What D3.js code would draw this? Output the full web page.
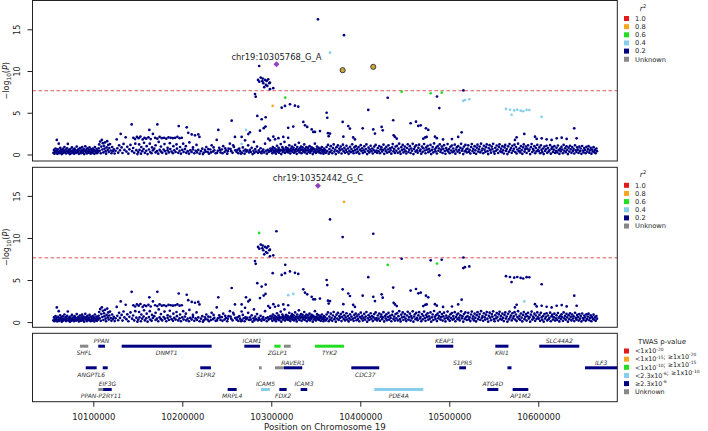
<!DOCTYPE html>
<html><head><meta charset="utf-8">
<script src="https://cdn.jsdelivr.net/npm/d3@7"></script>
<style>body{margin:0;background:#fff}svg{display:block;font-family:"DejaVu Sans",sans-serif}</style>
</head><body>
<svg id="chart" width="708" height="431"></svg>
<script>
// ---------------- data ----------------
const xTicks = [10100000, 10200000, 10300000, 10400000, 10500000, 10600000];
const yTicks = [0, 5, 10, 15];
const threshold = 7.64;
const ldLevels = ["1.0", "0.8", "0.6", "0.4", "0.2", "Unknown"];
const ldColors = ["#E31A1C", "#F5A623", "#22DD22", "#87CEEB", "#000080", "#888888"];
const leadColor = "#9440C2";
const markColor = "#C9A43A";
const leadLabels = ["chr19:10305768_G_A", "chr19:10352442_G_C"];

// background SNPs (position kb, -log10 P), navy in both panels
const bgSnps = [
[10055.2,0.20],[10055.8,0.55],[10056.4,0.10],[10057.0,0.38],[10057.6,0.72],[10058.2,0.25],[10058.8,0.48],[10059.0,1.74],[10059.6,0.08],[10060.2,0.62],[10060.8,0.30],[10061.2,1.30],[10061.6,0.15],[10062.2,0.45],[10062.8,0.80],[10063.4,0.22],[10064.0,0.55],[10064.6,0.05],[10065.2,0.35],[10065.8,0.68],[10066.4,0.18],[10067.0,0.42],[10067.6,0.90],[10068.2,0.28],[10068.8,0.60],[10069.4,0.12],[10070.0,0.40],[10070.6,0.75],[10071.4,1.26],[10071.8,0.20],[10072.4,0.52],[10073.0,0.32],[10073.6,0.05],[10074.2,0.65],[10074.8,0.38],[10075.4,0.15],[10076.0,0.85],[10076.6,0.45],[10077.2,0.25],[10077.8,0.58],[10078.4,0.10],[10079.0,0.70],[10079.6,0.35],[10080.2,0.50],[10080.8,0.18],[10081.4,0.95],[10082.0,0.42],[10082.6,0.28],[10083.2,0.62],[10083.8,0.08],[10084.4,0.48],[10085.0,0.78],[10085.6,0.30],[10086.2,0.15],[10086.8,0.55],[10087.4,0.88],[10088.0,0.40],[10088.6,0.20],[10089.2,0.65],[10089.8,0.05],[10090.4,0.45],[10091.0,0.98],[10091.6,0.32],[10092.2,0.58],[10092.8,0.12],[10093.4,0.75],[10094.0,0.38],[10094.6,0.22],[10095.2,0.52],[10095.8,0.85],[10096.4,0.28],[10097.0,0.10],[10097.6,0.62],[10098.2,0.40],[10098.8,0.18],[10099.4,0.72],[10100.0,0.35],[10100.6,0.55],[10101.2,0.08],[10101.8,0.90],[10102.4,0.42],[10103.0,0.25],[10103.6,0.65],[10104.2,0.15],[10104.8,0.48],
[10105.4,0.30],[10106.0,0.75],[10106.6,1.20],[10107.2,0.45],[10107.8,1.55],[10108.4,0.15],[10109.0,0.95],[10109.6,1.75],[10110.2,0.60],[10110.8,1.35],[10111.4,0.25],[10112.0,1.05],[10112.6,0.70],[10113.2,1.45],[10113.8,0.40],[10114.4,0.10],[10115.0,0.85],[10115.6,1.60],[10116.2,0.55],[10116.8,1.15],[10117.4,0.30],[10118.0,0.78],[10118.8,1.25],[10119.6,0.48],[10120.4,0.15],[10121.2,0.90],[10122.0,0.38],[10123.0,0.62],[10124.0,0.12],[10125.0,0.45],[10126.3,1.80],[10127.0,0.75],[10128.0,0.22],[10129.0,1.10],[10130.0,0.50],[10130.8,2.46],[10131.8,0.85],[10132.8,0.18],[10134.0,1.26],[10135.0,0.55],[10136.4,2.06],[10137.2,0.35],[10138.2,0.92],[10139.4,0.10],[10140.6,0.62],[10141.8,1.15],[10143.1,3.60],[10143.6,0.40],[10144.8,0.78],[10146.0,0.20],[10147.2,1.30],[10148.4,0.52],[10149.6,0.05],
[10145.0,2.00],[10147.0,1.85],[10149.0,2.10],[10151.0,1.95],[10153.0,2.15],[10155.5,1.80],[10157.5,2.00],[10159.5,1.90],[10162.0,2.05],[10164.5,1.85],[10169.5,2.00],[10172.0,1.90],[10174.5,2.10],[10177.0,1.95],[10179.5,2.00],[10182.0,1.90],[10184.5,2.05],[10187.0,2.00],[10189.5,1.95],[10192.0,2.00],[10194.5,2.10],[10197.0,1.95],[10199.5,2.00],
[10163.0,2.94],[10167.0,2.46],[10172.0,3.60],[10196.0,3.40],[10205.0,3.25],[10206.7,2.60],[10210.6,2.40],[10214.3,2.30],[10218.0,2.40],[10219.3,2.10],
[10151.5,1.20],[10154.0,0.90],[10157.0,1.40],[10160.0,1.00],[10163.5,1.30],[10166.0,0.85],[10170.0,1.10],[10173.5,1.50],[10176.0,0.95],[10180.0,1.25],[10183.5,0.80],[10186.0,1.35],[10190.0,1.00],[10193.5,1.20],[10197.5,0.90],[10201.0,1.30],[10204.0,1.00],[10208.0,1.45],[10212.0,0.85],[10216.0,1.15],
[10150.5,0.30],[10152.0,0.55],[10153.5,0.10],[10155.0,0.40],[10156.5,0.65],[10158.0,0.20],[10159.5,0.45],[10161.0,0.05],[10162.5,0.60],[10164.0,0.30],[10165.5,0.15],[10167.0,0.50],[10168.5,0.70],[10170.0,0.25],[10171.5,0.40],[10173.0,0.10],[10174.5,0.55],[10176.0,0.35],[10177.5,0.20],[10179.0,0.60],[10180.5,0.40],[10182.0,0.10],[10183.5,0.50],[10185.0,0.25],[10186.5,0.65],[10188.0,0.35],[10189.5,0.15],[10191.0,0.50],[10192.5,0.30],[10194.0,0.70],[10195.5,0.20],[10197.0,0.45],[10198.5,0.10],[10200.0,0.55],[10201.5,0.30],[10203.0,0.65],[10204.5,0.20],[10206.0,0.40],[10207.5,0.10],[10209.0,0.50],[10210.5,0.30],[10212.0,0.60],[10213.5,0.15],[10215.0,0.45],[10216.5,0.25],[10218.0,0.55],[10219.5,0.10],
[10221.0,0.40],[10222.5,0.70],[10224.0,0.20],[10225.5,0.55],[10227.0,0.90],[10228.5,0.30],[10230.0,0.10],[10231.5,0.60],[10233.0,1.10],[10234.5,0.35],[10236.0,0.50],[10237.5,0.15],[10238.7,1.74],[10240.0,0.45],[10240.5,2.94],[10241.5,0.80],[10243.0,0.25],[10244.5,0.60],[10246.0,1.00],[10247.5,0.30],[10249.0,0.50],[10250.5,0.10],[10252.0,0.70],[10253.5,1.30],[10255.0,0.40],[10255.5,4.05],[10256.5,0.20],[10258.0,0.90],[10259.2,2.10],[10259.5,0.50],
[10223.2,0.05],[10226.2,0.35],[10229.2,0.65],[10232.2,0.25],[10235.2,0.85],[10239.0,0.20],[10242.2,0.55],[10245.2,0.15],[10248.2,0.75],[10251.2,0.40],[10254.2,0.65],[10257.2,1.10],
[10261.0,0.30],[10262.0,0.55],[10263.0,0.15],[10264.0,0.70],[10265.0,0.40],[10266.0,0.10],[10267.0,0.20],[10268.0,0.85],[10269.0,0.45],[10270.0,0.10],[10271.0,0.60],[10272.0,0.35],[10273.0,0.50],[10274.0,1.10],[10275.0,0.25],[10276.0,0.55],[10277.0,0.30],[10278.0,0.80],[10279.0,0.05],[10280.0,0.45],[10281.0,0.20],[10282.0,0.65],[10283.0,0.35],[10284.0,0.95],[10285.0,0.20],[10286.0,0.50],[10287.0,0.30],[10288.0,0.75],[10289.0,0.15],[10290.0,0.40],[10291.0,0.60],[10292.0,0.25],[10293.0,1.30],[10294.0,0.45],[10295.0,0.10],[10296.0,0.55],[10297.0,0.30],[10298.0,0.40],[10299.0,0.70],
[10266.7,2.10],[10274.2,2.45],[10276.0,2.65],[10270.5,1.70],[10280.5,1.50],[10287.3,2.85],[10291.5,3.15],[10293.5,3.35],[10296.6,1.90],[10298.5,1.70],
[10300.0,0.40],[10300.6,0.65],[10301.2,0.15],[10301.8,0.90],[10302.3,2.13],[10302.6,0.50],[10303.2,0.28],[10303.8,0.75],[10304.2,1.82],[10304.6,0.40],[10305.2,0.10],[10305.8,0.60],[10306.4,1.05],[10307.0,0.35],[10307.6,0.50],[10308.2,0.80],[10308.8,0.22],[10309.4,0.60],[10310.0,0.45],[10310.6,1.25],[10311.2,0.05],[10311.8,0.55],[10312.4,0.90],[10313.0,0.30],[10313.6,0.70],[10314.2,0.45],[10314.8,1.50],[10315.4,0.18],[10316.0,0.60],[10316.6,0.85],[10317.2,0.35],[10317.8,0.50],[10318.4,0.75],[10319.0,0.25],[10319.6,0.55],[10320.2,1.10],[10320.8,0.40],[10321.4,0.12],[10322.0,0.70],[10322.6,0.45],[10323.2,0.95],[10323.8,0.30],[10324.4,0.60],[10325.0,0.80],[10325.6,0.20],[10326.2,0.50],[10326.8,1.15],[10327.4,0.35],[10328.0,0.65],[10328.6,0.08],[10329.2,0.90],[10329.8,0.45],[10330.4,0.60],[10331.0,1.40],[10331.6,0.25],[10332.2,0.75],[10332.8,0.50],[10333.4,0.95],[10334.0,0.15],[10334.6,0.60],[10335.2,0.85],[10335.8,0.35],[10336.4,0.55],[10337.0,1.20],[10337.6,0.25],[10338.2,0.70],[10338.8,0.45],[10339.4,0.90],[10340.0,0.10],[10340.6,0.55],[10341.2,0.80],[10341.8,0.30],[10342.4,0.50],[10343.0,1.00],[10343.6,0.20],[10344.2,0.65],[10344.8,0.40],[10345.4,0.85],[10346.0,0.55],[10346.6,0.05],[10347.2,0.75],[10347.8,0.30],[10348.4,0.60],[10349.0,1.30],[10349.6,0.45],[10350.2,0.18],[10350.8,0.65],[10351.4,0.95],[10352.0,0.35],[10352.6,0.50],[10353.2,0.80],[10353.8,0.25],[10354.4,0.45],[10355.0,0.70],[10355.6,0.15],[10356.2,0.60],[10356.8,0.90],[10357.4,0.35],[10358.0,0.50],[10358.6,0.10],[10359.2,0.70],[10359.8,0.30],
[10313.5,2.10],[10319.0,2.00],[10308.0,1.95],[10349.1,2.70],[10354.7,2.80],[10363.7,2.55],[10336.0,3.90],[10337.9,3.50],[10340.4,3.30],[10345.4,3.00],[10347.2,2.70],[10366.0,2.50],[10364.5,2.20],[10380.2,3.90],[10386.5,3.40],[10388.4,3.10],[10381.0,2.13],[10392.0,2.05],[10394.0,1.80],[10402.7,3.14],[10414.6,3.00],[10416.5,2.50],[10424.0,3.30],[10425.2,2.90],[10437.0,4.10],[10437.5,2.30],[10439.0,2.10],[10441.0,1.90],
[10456.6,3.74],[10462.6,3.93],[10465.2,3.42],[10467.9,3.50],[10473.8,3.14],[10476.4,2.94],[10470.8,1.90],[10474.6,2.10],[10483.9,2.13],[10513.9,2.66],[10640.4,3.14],
[10473.0,2.05],[10486.0,1.95],[10493.0,1.80],[10503.0,1.85],[10510.0,2.10],
[10596.3,2.13],[10598.2,1.86],[10603.8,1.94],[10609.4,1.82],[10615.0,1.74],[10620.7,1.94],[10626.3,2.02],[10631.9,1.86],[10643.1,1.94],[10575.7,2.06],[10573.8,1.74],
[10360.5,0.55],[10361.3,0.20],[10362.1,0.90],[10362.9,0.40],[10363.7,1.15],[10364.5,0.10],[10365.3,0.65],[10366.1,0.30],[10366.9,1.00],[10367.7,0.48],[10368.5,0.15],[10369.3,0.78],[10370.1,1.20],[10370.9,0.35],[10371.7,0.60],[10372.5,0.05],[10373.3,0.88],[10374.1,0.42],[10374.9,1.10],[10375.7,0.25],[10376.5,0.70],[10377.3,0.50],[10378.1,0.95],[10378.9,0.12],[10379.7,0.62],[10380.5,1.18],[10381.3,0.38],[10382.1,0.80],[10382.9,0.20],[10383.7,0.55],[10384.5,1.05],[10385.3,0.30],[10386.1,0.72],[10386.9,0.08],[10387.7,0.45],[10388.5,0.92],[10389.3,0.28],[10390.1,0.65],[10390.9,1.22],[10391.7,0.40],[10392.5,0.15],[10393.3,0.85],[10394.1,0.52],[10394.9,1.00],[10395.7,0.22],[10396.5,0.68],[10397.3,0.35],[10398.1,0.90],[10398.9,0.10],[10399.7,0.58],[10400.5,1.12],[10401.3,0.42],[10402.1,0.75],[10402.9,0.18],[10403.7,0.50],[10404.5,0.98],[10405.3,0.30],[10406.1,0.65],[10406.9,1.20],[10407.7,0.05],[10408.5,0.45],[10409.3,0.82],[10410.1,0.25],[10410.9,0.60],[10411.7,1.05],[10412.5,0.38],[10413.3,0.72],[10414.1,0.12],[10414.9,0.55],[10415.7,0.95],[10416.5,0.32],[10417.3,1.15],[10418.1,0.48],[10418.9,0.20],[10419.7,0.78],[10420.5,0.40],[10421.3,1.02],[10422.1,0.15],[10422.9,0.62],[10423.7,0.88],[10424.5,0.35],[10425.3,0.55],[10426.1,1.18],[10426.9,0.08],[10427.7,0.70],[10428.5,0.42],[10429.3,0.92],[10430.1,0.22],[10430.9,0.60],[10431.7,1.10],[10432.5,0.30],[10433.3,0.75],[10434.1,0.50],[10434.9,0.10],[10435.7,0.85],[10436.5,1.25],[10437.3,0.38],[10438.1,0.65],[10438.9,0.18],[10439.7,0.95],
[10440.5,0.45],[10441.3,1.05],[10442.1,0.20],[10442.9,0.70],[10443.7,1.30],[10444.5,0.35],[10445.3,0.08],[10446.1,0.88],[10446.9,0.55],[10447.7,1.15],[10448.5,0.25],[10449.3,0.62],[10450.1,0.95],[10450.9,0.40],[10451.7,0.12],[10452.5,0.78],[10453.3,1.22],[10454.1,0.30],[10454.9,0.58],[10455.7,1.00],[10456.5,0.18],[10457.3,0.72],[10458.1,0.45],[10458.9,1.28],[10459.7,0.05],[10460.5,0.65],[10461.3,0.92],[10462.1,0.35],[10462.9,1.10],[10463.7,0.50],[10464.5,0.22],[10465.3,0.80],[10466.1,1.18],[10466.9,0.42],[10467.7,0.60],[10468.5,0.10],[10469.3,0.95],[10470.1,0.32],[10470.9,0.75],[10471.7,1.25],[10472.5,0.48],[10473.3,0.15],[10474.1,0.85],[10474.9,0.58],[10475.7,1.05],[10476.5,0.28],[10477.3,0.68],[10478.1,0.40],[10478.9,1.15],[10479.7,0.05],[10480.5,0.55],[10481.3,0.90],[10482.1,0.25],[10482.9,1.32],[10483.7,0.62],[10484.5,0.38],[10485.3,0.82],[10486.1,0.12],[10486.9,1.00],[10487.7,0.45],[10488.5,0.72],[10489.3,1.20],[10490.1,0.30],[10490.9,0.58],[10491.7,0.95],[10492.5,0.18],[10493.3,0.68],[10494.1,1.12],[10494.9,0.42],[10495.7,0.08],[10496.5,0.78],[10497.3,0.52],[10498.1,1.25],[10498.9,0.35],[10499.7,0.65],[10500.5,0.15],[10501.3,0.92],[10502.1,0.48],[10502.9,1.08],[10503.7,0.28],[10504.5,0.72],[10505.3,0.40],[10506.1,1.18],[10506.9,0.10],[10507.7,0.60],[10508.5,0.88],[10509.3,0.35],[10510.1,1.02],[10510.9,0.52],[10511.7,0.20],[10512.5,0.80],[10513.3,1.28],[10514.1,0.45],[10514.9,0.68],[10515.7,0.05],[10516.5,0.95],[10517.3,0.38],[10518.1,1.15],[10518.9,0.58],[10519.7,0.25],
[10520.5,0.70],[10521.3,1.10],[10522.1,0.32],[10522.9,0.55],[10523.7,0.12],[10524.5,0.90],[10525.3,1.25],[10526.1,0.42],[10526.9,0.68],[10527.7,0.20],[10528.5,1.00],[10529.3,0.50],[10530.1,0.08],[10530.9,0.82],[10531.7,1.18],[10532.5,0.35],[10533.3,0.62],[10534.1,0.95],[10534.9,0.25],[10535.7,1.30],[10536.5,0.48],[10537.3,0.72],[10538.1,0.15],[10538.9,1.05],[10539.7,0.58],[10540.5,0.30],[10541.3,0.88],[10542.1,1.20],[10542.9,0.40],[10543.7,0.05],[10544.5,0.75],[10545.3,1.12],[10546.1,0.52],[10546.9,0.22],[10547.7,0.95],[10548.5,0.65],[10549.3,1.28],[10550.1,0.35],[10550.9,0.10],[10551.7,0.80],[10552.5,0.45],[10553.3,1.08],[10554.1,0.60],[10554.9,0.18],[10555.7,0.92],[10556.5,1.22],[10557.3,0.38],[10558.1,0.70],[10558.9,0.28],[10559.7,1.00],[10560.5,0.50],[10561.3,0.12],[10562.1,0.85],[10562.9,1.15],[10563.7,0.42],[10564.5,0.65],[10565.3,0.05],[10566.1,0.98],[10566.9,0.32],[10567.7,1.25],[10568.5,0.55],[10569.3,0.78],[10570.1,0.20],[10570.9,1.05],[10571.7,0.45],[10572.5,0.68],[10573.3,1.18],[10574.1,0.30],[10574.9,0.90],[10575.7,0.12],[10576.5,0.60],[10577.3,1.30],[10578.1,0.40],[10578.9,0.75],[10579.7,0.25],[10580.5,1.02],[10581.3,0.52],[10582.1,0.08],[10582.9,0.85],[10583.7,1.20],[10584.5,0.35],[10585.3,0.62],[10586.1,0.95],[10586.9,0.18],[10587.7,0.70],[10588.5,1.10],[10589.3,0.42],[10590.1,0.58],[10590.9,0.05],[10591.7,0.88],[10592.5,1.25],[10593.3,0.30],[10594.1,0.65],[10594.9,0.48],[10595.7,1.00],[10596.5,0.15],[10597.3,0.78],[10598.1,0.38],[10598.9,1.15],[10599.7,0.55],
[10600.5,0.40],[10601.3,0.85],[10602.1,0.15],[10602.9,1.10],[10603.7,0.55],[10604.5,0.28],[10605.3,0.72],[10606.1,0.05],[10606.9,0.95],[10607.7,0.42],[10608.5,0.62],[10609.3,1.05],[10610.1,0.20],[10610.9,0.78],[10611.7,0.35],[10612.5,0.50],[10613.3,1.12],[10614.1,0.10],[10614.9,0.68],[10615.7,0.88],[10616.5,0.30],[10617.3,0.58],[10618.1,1.00],[10618.9,0.18],[10619.7,0.45],[10620.5,0.80],[10621.3,0.25],[10622.1,1.08],[10622.9,0.52],[10623.7,0.08],[10624.5,0.70],[10625.3,0.38],[10626.1,0.92],[10626.9,0.60],[10627.7,0.15],[10628.5,1.15],[10629.3,0.45],[10630.1,0.75],[10630.9,0.28],[10631.7,0.98],[10632.5,0.55],[10633.3,0.05],[10634.1,0.82],[10634.9,0.35],[10635.7,1.05],[10636.5,0.62],[10637.3,0.20],[10638.1,0.90],[10638.9,0.42],[10639.7,0.68],[10640.5,0.12],[10641.3,1.10],[10642.1,0.50],[10642.9,0.30],[10643.7,0.85],[10644.5,0.58],[10645.3,0.18],[10646.1,0.95],[10646.9,0.40],[10647.7,0.72],[10648.5,0.08],[10649.3,1.02],[10650.1,0.48],[10650.9,0.25],[10651.7,0.78],[10652.5,0.55],[10653.3,0.15],[10654.1,0.92],[10654.9,0.35],[10655.7,0.65],[10656.5,1.00],[10657.3,0.22],[10658.1,0.50],[10658.9,0.80],[10659.7,0.10],[10660.5,0.60],[10661.3,0.38],[10662.1,0.88],[10662.9,0.28],[10663.7,0.55],[10664.5,0.15],[10665.3,0.72],[10666.0,0.40]
];

// signal SNPs: [position kb, -log10 P, r2 class in top panel, r2 class in bottom panel]
const sigSnps = [
[10352.442,16.2,"0.2","lead"],[10381.7,14.3,"0.2","0.8"],[10366.0,12.2,"0.4","0.2"],[10305.768,10.8,"lead","0.2"],
[10380.2,10.1,"mark","0.2"],[10414.6,10.5,"mark","0.2"],[10286.4,10.6,"0.2","0.6"],
[10285.1,8.93,"0.2","0.2"],[10288.1,9.21,"0.2","0.2"],[10290.3,9.09,"0.2","0.2"],[10286.5,8.73,"0.2","0.2"],[10292.9,8.93,"0.2","0.2"],[10294.8,8.81,"0.2","0.2"],[10296.6,9.01,"0.2","0.2"],[10298.5,8.61,"0.2","0.2"],[10291.0,8.54,"0.2","0.2"],[10294.0,8.33,"0.2","0.2"],[10295.5,8.21,"0.2","0.2"],[10292.1,8.06,"0.2","0.2"],[10298.5,7.82,"0.2","0.2"],[10302.2,7.94,"0.2","0.2"],[10289.9,8.78,"0.2","0.2"],[10297.8,8.54,"0.2","0.2"],
[10281.7,7.25,"0.2","0.2"],[10282.5,6.93,"0.2","0.2"],
[10315.7,6.81,"0.6","0.2"],[10301.6,5.82,"0.8","0.2"],
[10311.7,5.61,"0.2","0.2"],[10315.4,5.82,"0.2","0.2"],[10321.0,6.02,"0.2","0.2"],[10326.6,5.85,"0.2","0.2"],[10330.3,5.73,"0.2","0.2"],
[10284.3,4.62,"0.2","0.2"],[10289.2,4.22,"0.2","0.2"],[10293.7,4.46,"0.2","0.2"],
[10271.6,2.94,"0.4","0.2"],[10266.7,1.26,"0.4","0.2"],
[10319.0,3.20,"0.2","0.4"],[10324.7,3.35,"0.2","0.4"],
[10362.2,5.00,"0.2","0.2"],[10362.9,4.40,"0.2","0.2"],
[10430.8,6.80,"0.2","0.6"],[10409.0,5.34,"0.2","0.2"],[10446.5,7.53,"0.6","0.2"],
[10479.1,7.34,"0.6","0.2"],[10491.5,7.41,"0.6","0.2"],[10486.2,6.95,"0.2","0.6"],[10488.8,5.56,"0.2","0.2"],
[10515.7,6.42,"0.4","0.2"],[10522.5,6.62,"0.4","0.2"],[10517.6,6.53,"0.4","0.2"],[10515.9,7.68,"0.2","0.2"],
[10563.7,5.46,"0.4","0.2"],[10568.2,5.36,"0.4","0.2"],[10573.0,5.28,"0.4","0.2"],[10576.4,5.36,"0.4","0.2"],[10580.2,5.25,"0.4","0.2"],[10583.1,5.18,"0.4","0.2"],[10586.9,5.34,"0.4","0.2"],[10589.9,5.33,"0.4","0.2"],[10570.0,4.76,"0.4","0.2"],[10603.8,4.50,"0.4","0.2"],
[10584.3,2.46,"0.2","0.4"]
];

// genes: [name, start kb, end kb, row, label side (a=above, b=below), TWAS class index]
const twasLabels = [
  [["<1x10","-20"]],
  [["<1x10","-15"],["; \u22651x10","-20"]],
  [["<1x10","-10"],["; \u22651x10","-15"]],
  [["<2.3x10","-6"],["; \u22651x10","-10"]],
  [["\u22652.3x10","-6"]],
  [["Unknown",""]]
];
const genes = [
["SHFL",10085.0,10094.4,0,"b",5],["PPAN",10105.6,10113.1,0,"a",4],["DNMT1",10131.9,10233.0,0,"b",4],
["ICAM1",10269.7,10287.3,0,"a",4],["ZGLP1",10303.4,10310.6,0,"b",2],["",10314.3,10321.8,0,"",5],
["TYK2",10349.1,10381.7,0,"b",2],["KEAP1",10485.1,10504.5,0,"a",4],["KRI1",10551.7,10566.5,0,"b",4],
["SLC44A2",10601.1,10646.1,0,"a",4],
["ANGPTL6",10091.5,10103.8,1,"b",4],["",10110.6,10116.2,1,"",4],["S1PR2",10220.2,10232.2,1,"b",4],
["",10286.2,10289.2,1,"",5],["",10304.2,10314.3,1,"",5],["RAVER1",10314.3,10334.8,1,"a",4],
["CDC37",10389.9,10421.3,1,"b",4],["S1PR5",10511.2,10518.8,1,"a",4],["",10565.4,10569.9,1,"",4],
["ILF3",10652.5,10700.0,1,"a",4],
["PPAN-P2RY11",10105.6,10112.0,2,"b",5],["EIF3G",10111.2,10120.7,2,"a",4],["MRPL4",10251.0,10261.1,2,"b",4],
["ICAM5",10288.4,10298.5,2,"a",3],["FDX2",10309.0,10317.3,2,"b",4],["ICAM3",10333.0,10340.4,2,"a",4],
["PDE4A",10415.7,10470.8,2,"b",3],["ATG4D",10542.7,10555.1,2,"a",4],["AP1M2",10571.2,10588.8,2,"b",4]
];

// ---------------- drawing ----------------
const svg = d3.select("#chart");
const L = 32.5, R = 617.3;
const x = d3.scaleLinear().domain([10031700, 10688800]).range([L, R]);
const colorOf = k => ldColors[ldLevels.indexOf(k)];
const border = "#222";
const ptR = 1.35;

const panels = [
  {top: 0.5, bot: 161, dom: [-0.78, 18.45], col: 2, label: leadLabels[0]},
  {top: 167.3, bot: 327.3, dom: [-0.62, 18.4], col: 3, label: leadLabels[1]}
];

panels.forEach((p, pi) => {
  const y = d3.scaleLinear().domain(p.dom).range([p.bot, p.top]);
  const g = svg.append("g");
  const cid = "clip" + pi;
  svg.append("clipPath").attr("id", cid).append("rect")
    .attr("x", L).attr("y", p.top).attr("width", R - L).attr("height", p.bot - p.top);
  const pg = g.append("g").attr("clip-path", `url(#${cid})`);

  pg.append("line").attr("x1", L).attr("x2", R)
    .attr("y1", y(threshold)).attr("y2", y(threshold))
    .attr("stroke", "#E0585A").attr("stroke-width", 1).attr("stroke-dasharray", "3.5,2.5");

  pg.selectAll("circle.bg").data(bgSnps).join("circle").attr("class", "bg")
    .attr("cx", d => x(d[0] * 1000)).attr("cy", d => y(d[1])).attr("r", ptR)
    .attr("fill", ldColors[4]);

  const cls = d => d[p.col];
  const order = ["0.2", "0.4", "0.6", "0.8", "1.0", "mark", "lead"];
  const sig = sigSnps.slice().sort((a, b) => order.indexOf(cls(a)) - order.indexOf(cls(b)));
  pg.selectAll("circle.sig").data(sig.filter(d => cls(d) !== "lead" && cls(d) !== "mark"))
    .join("circle").attr("class", "sig")
    .attr("cx", d => x(d[0] * 1000)).attr("cy", d => y(d[1])).attr("r", ptR)
    .attr("fill", d => colorOf(cls(d)));
  pg.selectAll("circle.mark").data(sig.filter(d => cls(d) === "mark"))
    .join("circle").attr("class", "mark")
    .attr("cx", d => x(d[0] * 1000)).attr("cy", d => y(d[1])).attr("r", 2.6)
    .attr("fill", markColor).attr("stroke", "#333").attr("stroke-width", 0.9);
  const lead = sig.filter(d => cls(d) === "lead");
  pg.selectAll("path.lead").data(lead).join("path").attr("class", "lead")
    .attr("d", d3.symbol(d3.symbolSquare, 18)())
    .attr("transform", d => `translate(${x(d[0] * 1000)},${y(d[1])}) rotate(45)`)
    .attr("fill", leadColor);
  g.selectAll("text.lead").data(lead).join("text").attr("class", "lead")
    .attr("x", d => x(d[0] * 1000)).attr("y", d => y(d[1]) - 4.5)
    .attr("text-anchor", "middle").attr("font-size", 8.4).attr("fill", "#222")
    .text(p.label);

  g.append("rect").attr("x", L).attr("y", p.top).attr("width", R - L).attr("height", p.bot - p.top)
    .attr("fill", "none").attr("stroke", border).attr("stroke-width", 1);

  const ax = g.append("g").attr("transform", `translate(${L},0)`)
    .call(d3.axisLeft(y).tickValues(yTicks).tickSize(5).tickFormat(d3.format("d")));
  ax.select(".domain").remove();
  ax.selectAll(".tick line").attr("stroke", border);
  ax.selectAll(".tick text").attr("transform", "rotate(-90)").attr("x", 0).attr("y", -12.5)
    .attr("dy", 0).attr("text-anchor", "middle").attr("font-size", 8)
    .attr("font-family", "DejaVu Sans").attr("fill", "#222");

  const yl = g.append("text").attr("transform", `translate(8.6,${(p.top + p.bot) / 2}) rotate(-90)`)
    .attr("text-anchor", "middle").attr("font-size", 8).attr("fill", "#222");
  yl.append("tspan").text("\u2212log");
  yl.append("tspan").attr("font-size", 5.8).attr("dy", 2).text("10");
  yl.append("tspan").attr("dy", -2).text("(");
  yl.append("tspan").attr("font-style", "italic").text("P");
  yl.append("tspan").text(")");

  const lg = g.append("g");
  const lt = lg.append("text").attr("x", 643).attr("y", p.top + 10).attr("text-anchor", "middle")
    .attr("font-size", 7.5).attr("fill", "#222");
  lt.append("tspan").attr("font-style", "italic").text("r");
  lt.append("tspan").attr("font-size", 5).attr("dy", -3).text("2");
  ldLevels.forEach((k, i) => {
    const cy = p.top + 18 + i * 8.15;
    lg.append("rect").attr("x", 624).attr("y", cy - 2.5).attr("width", 5).attr("height", 5).attr("fill", ldColors[i]);
    lg.append("text").attr("x", 635).attr("y", cy).attr("dy", "0.35em").attr("font-size", 6.7)
      .attr("fill", "#222").text(k);
  });
});

// ---------------- gene track ----------------
const gTop = 333.3, gBot = 401.7;
const rowY = [346.2, 367.8, 389.5];
svg.append("clipPath").attr("id", "gclip").append("rect")
  .attr("x", L).attr("y", gTop).attr("width", R - L).attr("height", gBot - gTop);
const gg = svg.append("g").attr("clip-path", "url(#gclip)");
const domKb = x.domain().map(v => v / 1000);
gg.selectAll("rect.gene").data(genes).join("rect").attr("class", "gene")
  .attr("x", d => x(d[1] * 1000)).attr("width", d => x(d[2] * 1000) - x(d[1] * 1000))
  .attr("y", d => rowY[d[3]] - 1.5).attr("height", 3)
  .attr("fill", d => ldColors[d[5]]);
gg.selectAll("text.gene").data(genes.filter(d => d[0])).join("text").attr("class", "gene")
  .attr("x", d => x((Math.max(d[1], domKb[0]) + Math.min(d[2], domKb[1])) / 2 * 1000))
  .attr("y", d => d[4] === "a" ? rowY[d[3]] - 3.1 : rowY[d[3]] + 8.9)
  .attr("text-anchor", "middle").attr("font-size", 6).attr("font-style", "italic")
  .attr("fill", "#333").text(d => d[0]);
svg.append("rect").attr("x", L).attr("y", gTop).attr("width", R - L).attr("height", gBot - gTop)
  .attr("fill", "none").attr("stroke", border).attr("stroke-width", 1);

const xa = svg.append("g").attr("transform", `translate(0,${gBot})`)
  .call(d3.axisBottom(x).tickValues(xTicks).tickSize(5).tickPadding(7.5).tickFormat(d3.format("d")));
xa.select(".domain").remove();
xa.selectAll(".tick line").attr("stroke", border);
xa.selectAll(".tick text").attr("font-size", 8.5).attr("font-family", "DejaVu Sans").attr("fill", "#222");
svg.append("text").attr("x", (L + R) / 2).attr("y", 429.5).attr("text-anchor", "middle")
  .attr("font-size", 8.7).attr("fill", "#222").text("Position on Chromosome 19");

const tl = svg.append("g");
tl.append("text").attr("x", 662).attr("y", 343.5).attr("text-anchor", "middle")
  .attr("font-size", 7).attr("fill", "#222").text("TWAS p-value");
twasLabels.forEach((segs, i) => {
  const cy = 351 + i * 8.15;
  tl.append("rect").attr("x", 624).attr("y", cy - 2.5).attr("width", 5).attr("height", 5).attr("fill", ldColors[i]);
  const t = tl.append("text").attr("x", 635).attr("y", cy + 2.3).attr("font-size", 6.4).attr("fill", "#222");
  segs.forEach(s => {
    t.append("tspan").text(s[0]);
    if (s[1]) {
      t.append("tspan").attr("font-size", 4.4).attr("dy", -2.6).text(s[1]);
      t.append("tspan").attr("font-size", 6.4).attr("dy", 2.6).text("");
    }
  });
});
</script>
</body></html>
